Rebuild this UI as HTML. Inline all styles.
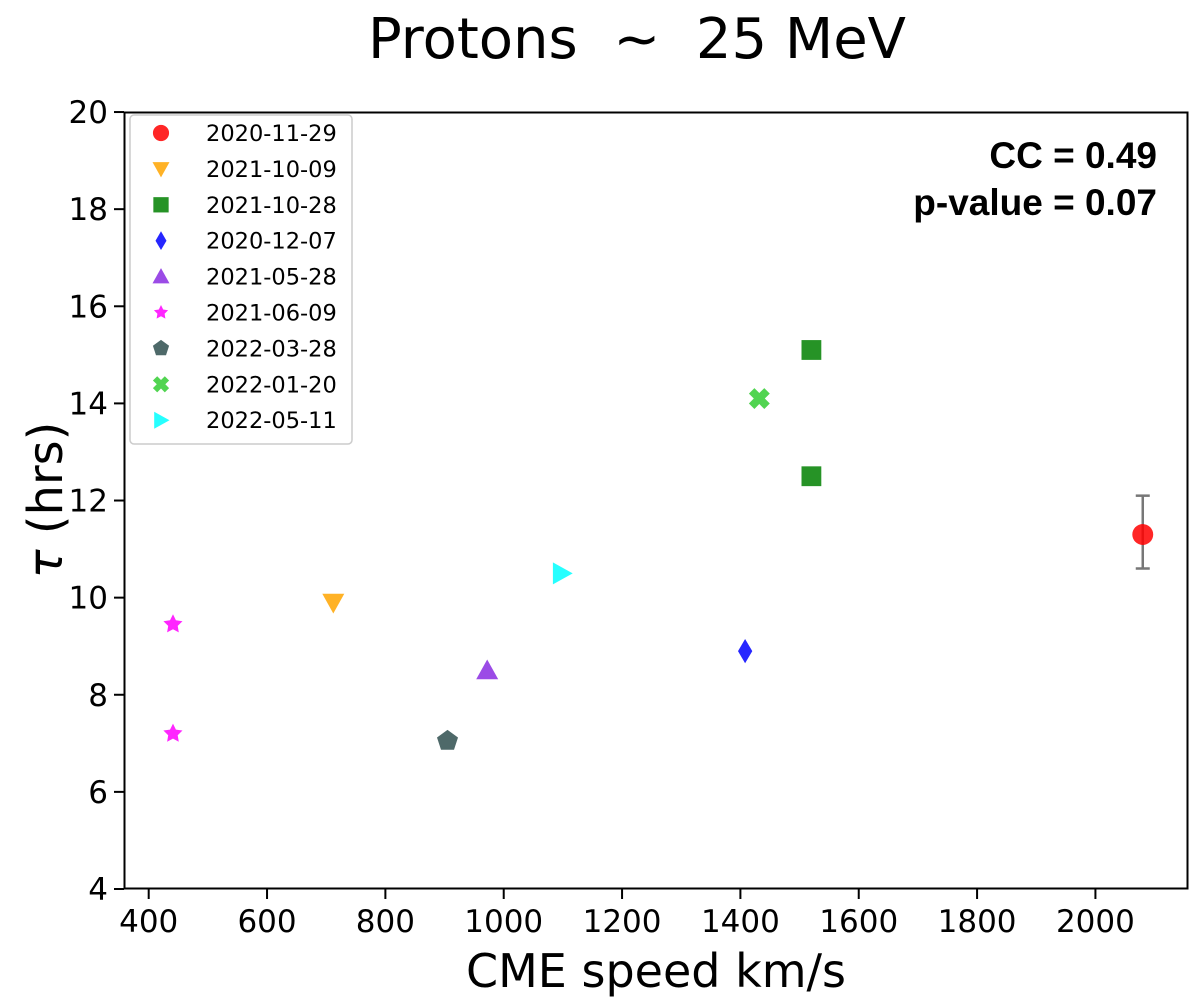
<!DOCTYPE html>
<html><head><meta charset="utf-8"><style>body{margin:0;background:#fff}svg{display:block}</style></head>
<body>
<svg id="chart" width="1200" height="1003" xmlns="http://www.w3.org/2000/svg" font-family="'DejaVu Sans', sans-serif">
<text x="637" y="58" font-size="56" text-anchor="middle" xml:space="preserve">Protons  ~  25 MeV</text>
<g id="axes"></g>
<g id="marks"></g>
<rect x="124.5" y="112.5" width="1063" height="776" fill="none" stroke="#000" stroke-width="2"/>
<text x="1157" y="168" font-family="'Liberation Sans', sans-serif" font-weight="bold" font-size="37" text-anchor="end">CC = 0.49</text>
<text x="1157" y="215" font-family="'Liberation Sans', sans-serif" font-weight="bold" font-size="37" text-anchor="end">p-value = 0.07</text>
<text x="656" y="987" font-size="46" text-anchor="middle">CME speed km/s</text>
<text transform="translate(62,500) rotate(-90)" font-size="48" text-anchor="middle"><tspan font-style="italic">τ</tspan> (hrs)</text>
<g id="legend"></g>
</svg>
<script>
const xTicks=[400,600,800,1000,1200,1400,1600,1800,2000];
const yTicks=[4,6,8,10,12,14,16,18,20];
const labels=["2020-11-29","2021-10-09","2021-10-28","2020-12-07","2021-05-28","2021-06-09","2022-03-28","2022-01-20","2022-05-11"];
const colors=["#ff0000","#ffa500","#008000","#0000ff","#8a2be2","#ff00ff","#2f4f4f","#32cd32","#00ffff"];
const shapes=["circle","tridown","square","diamond","triup","star","pentagon","x","triright"];
const seriesX=[[2080],[712],[1520,1520],[1408],[972],[441,441],[905],[1432],[1098]];
const seriesY=[[11.3],[9.9],[15.1,12.5],[8.9],[8.5],[9.45,7.2],[7.05],[14.1],[10.5]];
const errLow=[10.6], errHigh=[12.1];
const NS="http://www.w3.org/2000/svg";
const X=v=>148.7+(v-400)*0.5917;
const Y=v=>889-(v-4)*48.56;
function mk(t,a,p){const e=document.createElementNS(NS,t);for(const k in a)e.setAttribute(k,a[k]);p.appendChild(e);return e;}
const axes=document.getElementById('axes');
xTicks.forEach(v=>{
 const l=mk('line',{x1:X(v),x2:X(v),y1:889,y2:899,stroke:'#000','stroke-width':2},axes);
 
 
 const t=mk('text',{x:X(v),y:932,'font-size':31,'text-anchor':'middle'},axes);t.textContent=v;
 
 
});
yTicks.forEach(v=>{
 const l=mk('line',{x1:114,x2:124,y1:Y(v),y2:Y(v),stroke:'#000','stroke-width':2},axes);
 
 
 const t=mk('text',{x:108,y:Y(v)+11,'font-size':31,'text-anchor':'end'},axes);t.textContent=v;
 
 
});
function marker(shape,cx,cy,s,color,p){
 let e;const r=s/2;
 const poly=pts=>mk('polygon',{points:pts.map(q=>(cx+q[0]).toFixed(1)+','+(cy+q[1]).toFixed(1)).join(' '),fill:color},p);
 if(shape==='circle')e=mk('circle',{cx:cx,cy:cy,r:r*0.95,fill:color},p);
 else if(shape==='square')e=mk('rect',{x:cx-r*0.9,y:cy-r*0.9,width:s*0.9,height:s*0.9,fill:color},p);
 else if(shape==='tridown')e=poly([[-r,-r*0.8],[r,-r*0.8],[0,r]]);
 else if(shape==='triup')e=poly([[-r,r*0.8],[r,r*0.8],[0,-r]]);
 else if(shape==='triright')e=poly([[-r*0.8,-r],[-r*0.8,r],[r,0]]);
 else if(shape==='diamond')e=poly([[0,-r*1.1],[r*0.65,0],[0,r*1.1],[-r*0.65,0]]);
 else if(shape==='pentagon'){const a=[];for(let i=0;i<5;i++){const t=-Math.PI/2+i*2*Math.PI/5;a.push([r*Math.cos(t),r*Math.sin(t)]);}e=poly(a);}
 else if(shape==='star'){const a=[];for(let i=0;i<10;i++){const t=-Math.PI/2+i*Math.PI/5,rr=i%2?r*0.5:r;a.push([rr*Math.cos(t),rr*Math.sin(t)]);}e=poly(a);}
 else if(shape==='x'){const w=r*0.5,k=r*0.95;e=poly([[-k,-k+w],[-k+w,-k],[0,-w],[k-w,-k],[k,-k+w],[w,0],[k,k-w],[k-w,k],[0,w],[-k+w,k],[-k,k-w],[-w,0]]);}
 e.setAttribute('opacity','0.85');
 return e;
}
const marks=document.getElementById('marks');
const eb=mk('g',{stroke:'#777','stroke-width':2.5},marks);


mk('line',{x1:X(seriesX[0][0]),x2:X(seriesX[0][0]),y1:Y(errLow[0]),y2:Y(errHigh[0])},eb);
mk('line',{x1:X(seriesX[0][0])-7,x2:X(seriesX[0][0])+7,y1:Y(errLow[0]),y2:Y(errLow[0])},eb);
mk('line',{x1:X(seriesX[0][0])-7,x2:X(seriesX[0][0])+7,y1:Y(errHigh[0]),y2:Y(errHigh[0])},eb);
seriesX.forEach((xs,i)=>xs.forEach((xv,j)=>{
 const e=marker(shapes[i],X(xv),Y(seriesY[i][j]),i===5?20:22,colors[i],marks);
 
 
}));
const lg=document.getElementById('legend');
const box=mk('rect',{x:130,y:115,width:222,height:329,rx:4,fill:'#fff','fill-opacity':0.8,stroke:'#ccc','stroke-width':1.5},lg);


labels.forEach((lab,i)=>{
 const y=133+i*35.9;
 const m=marker(shapes[i],161,y,i===5?15:17,colors[i],lg);
 
 
 const t=mk('text',{x:206,y:y+8,'font-size':22.5},lg);t.textContent=lab;
 
 
});
</script>
</body></html>
